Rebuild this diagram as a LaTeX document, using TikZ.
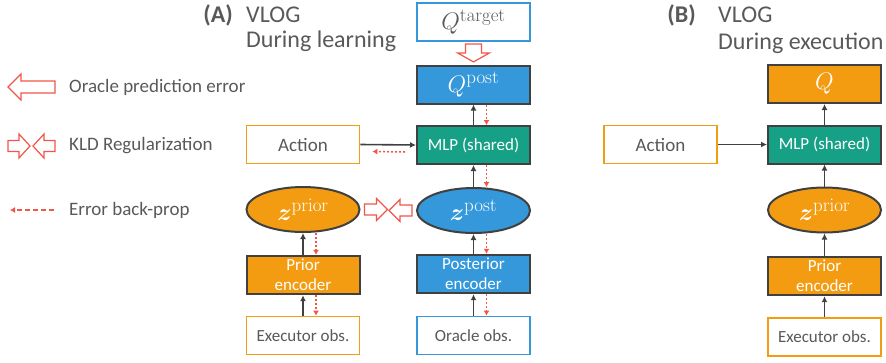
\RequirePackage{fix-cm}
\documentclass[tikz,border=0pt]{standalone}
\usepackage{amsmath}
\usepackage[no-math]{fontspec}
\setmainfont{Carlito}
\usetikzlibrary{shapes.geometric, arrows.meta}

\DeclareMathSizes{24}{24}{19}{14}

\definecolor{vlogblue}{HTML}{3498DB}
\definecolor{vlogorange}{HTML}{F39C12}
\definecolor{vloggreen}{HTML}{16A085}
\definecolor{edgegray}{HTML}{404040}
\definecolor{textgray}{HTML}{595959}
\definecolor{errred}{HTML}{F0564A}

% hollow block arrow: #1 tail, #2 angle, #3 length, #4 half shaft, #5 half head, #6 head length
\newcommand{\hollowarrow}[6]{%
    \draw[hollow_arrow, shift={#1}, rotate=#2]
        (0,-#4) -- ({#3-#6},-#4) -- ({#3-#6},-#5) -- (#3,0)
        -- ({#3-#6},#5) -- ({#3-#6},#4) -- (0,#4) -- cycle;}

\begin{document}
\begin{tikzpicture}[
    x=1pt, y=-1pt,
    box_style/.style={rectangle, draw=edgegray, line width=2pt, minimum width=113pt, minimum height=38pt, text=white, align=center, font=\fontsize{17}{20}\selectfont},
    input_style/.style={rectangle, fill=white, line width=1.8pt, minimum width=113pt, minimum height=38pt, text=textgray, font=\fontsize{17}{20}\selectfont},
    latent_style/.style={ellipse, draw=edgegray, line width=2pt, minimum width=113pt, minimum height=45pt, text=white, inner sep=0pt},
    math_style/.style={font=\fontsize{24}{28}\selectfont},
    title_style/.style={text=textgray, font=\fontsize{24}{28}\selectfont, inner sep=0pt},
    legend_style/.style={text=textgray, font=\fontsize{19}{22}\selectfont, anchor=west, inner sep=0pt},
    forward/.style={draw=edgegray, line width=1.6pt, -{Latex[length=6pt, width=6pt]}},
    back_prop/.style={draw=errred, line width=1.5pt, dash pattern=on 2pt off 2pt, -{Latex[length=5pt, width=6pt]}},
    hollow_arrow/.style={draw=errred, fill=white, line width=1.2pt, line join=miter}
]
    \useasboundingbox (0,0) rectangle (886,362);

    % --- Legend ---
    \coordinate (leg_pred) at (55,87);
    \hollowarrow{(leg_pred)}{180}{47}{6}{13}{13}
    \node[legend_style] (leg_pred_txt) at (69,87) {Oracle prediction error};

    \coordinate (leg_kld_r) at (8,146);
    \coordinate (leg_kld_l) at (55,146);
    \hollowarrow{(leg_kld_r)}{0}{22}{5.5}{12}{11}
    \hollowarrow{(leg_kld_l)}{180}{22}{5.5}{12}{11}
    \node[legend_style] (leg_kld_txt) at (69,146) {KLD Regularization};

    \coordinate (leg_bp_start) at (54,210);
    \coordinate (leg_bp_end) at (10,210);
    \draw[back_prop, line width=1.8pt, dash pattern=on 5pt off 3pt] (leg_bp_start) -- (leg_bp_end);
    \node[legend_style] (leg_bp_txt) at (69,210) {Error back-prop};

    % --- (A) during learning ---
    \node[title_style, anchor=east, font=\fontsize{24}{28}\selectfont\bfseries] (tag_a) at (233,15) {(A)};
    \node[title_style, anchor=west] (title_a) at (246,15) {VLOG};
    \node[title_style, anchor=west] (sub_a) at (246,41) {During learning};

    % executor branch
    \node[input_style, draw=vlogorange, font=\fontsize{19}{22}\selectfont] (action_a) at (303,144.5) {Action};
    \node[latent_style, fill=vlogorange, math_style] (z_prior_a) at (303,209.5) {$\boldsymbol{z}^{\mathrm{prior}}$};
    \node[box_style, fill=vlogorange] (prior_enc_a) at (303,275) {Prior\\encoder};
    \node[input_style, draw=vlogorange] (exec_obs_a) at (303,335.5) {Executor obs.};

    % oracle branch
    \node[input_style, draw=vlogblue, math_style] (q_target) at (473.5,22) {$Q^{\mathrm{target}}$};
    \node[box_style, fill=vlogblue, math_style] (q_post) at (473.5,84.5) {$Q^{\mathrm{post}}$};
    \node[box_style, fill=vloggreen] (mlp_a) at (473.5,145) {MLP (shared)};
    \node[latent_style, fill=vlogblue, math_style] (z_post) at (473.5,210.5) {$\boldsymbol{z}^{\mathrm{post}}$};
    \node[box_style, fill=vlogblue] (post_enc) at (473.5,274) {Posterior\\encoder};
    \node[input_style, draw=vlogblue] (oracle_obs) at (473.5,335.5) {Oracle obs.};

    \foreach \src/\dst in {exec_obs_a/prior_enc_a, prior_enc_a/z_prior_a, oracle_obs/post_enc, post_enc/z_post, z_post/mlp_a, mlp_a/q_post}
        \draw[forward] (\src.north) -- (\dst.south);
    \draw[forward] (action_a.east) -- (mlp_a.west);

    % errors flowing back
    \foreach \src/\dst in {q_post/mlp_a, mlp_a/z_post, z_post/post_enc, post_enc/oracle_obs, z_prior_a/prior_enc_a, prior_enc_a/exec_obs_a}
        \draw[back_prop] ([xshift=13pt]\src.south) -- ([xshift=13pt]\dst.north);
    \draw[back_prop] ([xshift=-11pt, yshift=-7pt]mlp_a.west) -- ([xshift=12pt, yshift=-7pt]action_a.east);

    % prediction error and KLD arrows
    \hollowarrow{([yshift=-2pt]q_target.south)}{270}{18}{8}{16}{9}
    \hollowarrow{([xshift=4pt]z_prior_a.east)}{0}{23}{5.5}{11}{11}
    \hollowarrow{([xshift=-4pt]z_post.west)}{180}{23}{5.5}{11}{11}

    % --- (B) during execution ---
    \node[title_style, anchor=east, font=\fontsize{24}{28}\selectfont\bfseries] (tag_b) at (696,15) {(B)};
    \node[title_style, anchor=west] (title_b) at (718,15) {VLOG};
    \node[title_style, anchor=west] (sub_b) at (718,43) {During execution};

    \node[input_style, draw=vlogorange, font=\fontsize{19}{22}\selectfont] (action_b) at (660.5,144.5) {Action};
    \node[box_style, fill=vlogorange, math_style] (q_b) at (824.5,84) {$Q$};
    \node[box_style, fill=vloggreen] (mlp_b) at (824.5,144.5) {MLP (shared)};
    \node[latent_style, fill=vlogorange, math_style] (z_prior_b) at (824.5,210) {$\boldsymbol{z}^{\mathrm{prior}}$};
    \node[box_style, fill=vlogorange] (prior_enc_b) at (824.5,276) {Prior\\encoder};
    \node[input_style, draw=vlogorange] (exec_obs_b) at (824.5,337) {Executor obs.};

    \foreach \src/\dst in {exec_obs_b/prior_enc_b, prior_enc_b/z_prior_b, z_prior_b/mlp_b, mlp_b/q_b}
        \draw[forward] (\src.north) -- (\dst.south);
    \draw[forward] (action_b.east) -- (mlp_b.west);

\end{tikzpicture}
\end{document}
